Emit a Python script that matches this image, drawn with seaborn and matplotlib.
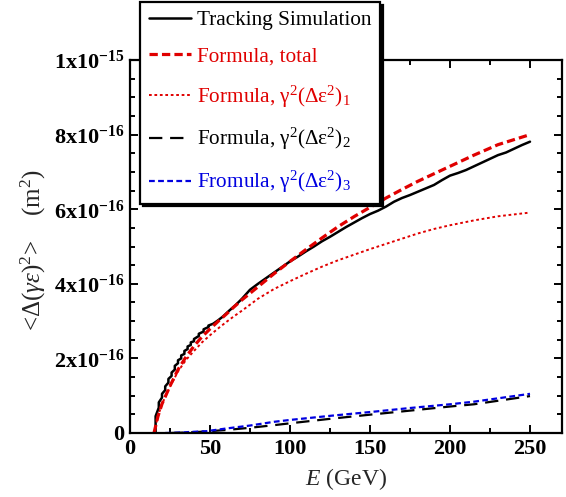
import numpy as np
import pandas as pd
import seaborn as sns
import matplotlib
matplotlib.use("Agg")
import matplotlib.pyplot as plt
from matplotlib.ticker import FixedLocator, MultipleLocator

# ---------------- data (units of 1e-16 m^2) ----------------
# tracking simulation (jagged at low energy: repeated E = vertical jump)
E_track = [16, 16, 18, 18, 20, 20, 22, 22, 24, 24, 26, 26, 28, 28, 30, 30, 32, 32,
           34, 34, 36, 36, 38, 38, 40, 40, 43, 43, 46, 46, 49, 49, 52, 55, 58, 62,
           66, 70, 75, 80, 85, 90, 95, 100, 105, 110, 115, 120, 125, 130, 135, 140,
           145, 150, 155, 160, 165, 170, 175, 180, 185, 190, 195, 200, 205, 210,
           215, 220, 225, 230, 235, 240, 245, 250]
track = [0.00, 0.45, 0.68, 0.82, 0.95, 1.05, 1.15, 1.25, 1.35, 1.45, 1.53, 1.62,
         1.70, 1.80, 1.87, 1.95, 2.00, 2.08, 2.12, 2.20, 2.25, 2.32, 2.36, 2.43,
         2.46, 2.52, 2.60, 2.66, 2.72, 2.78, 2.84, 2.88, 2.93, 3.02, 3.12, 3.28,
         3.43, 3.60, 3.84, 4.00, 4.15, 4.30, 4.45, 4.60, 4.73, 4.87, 5.00, 5.14,
         5.26, 5.39, 5.52, 5.64, 5.76, 5.87, 5.96, 6.07, 6.20, 6.30, 6.38, 6.47,
         6.56, 6.65, 6.78, 6.90, 6.97, 7.05, 7.15, 7.25, 7.35, 7.45, 7.52, 7.62,
         7.72, 7.81]

E_formula = [15, 17.5, 20, 22, 25, 30, 35, 40, 45, 50, 55, 60, 65, 70, 80, 90, 100,
             110, 120, 130, 140, 150, 160, 170, 180, 190, 200, 215, 230, 250]
total = [0.0, 0.45, 0.78, 0.97, 1.26, 1.70, 2.04, 2.33, 2.58, 2.79, 2.99, 3.18, 3.38,
         3.57, 3.92, 4.27, 4.60, 4.92, 5.23, 5.53, 5.80, 6.05, 6.30, 6.53, 6.75, 6.95,
         7.15, 7.45, 7.73, 8.00]
comp1 = [0.0, 0.45, 0.78, 0.96, 1.24, 1.65, 1.96, 2.20, 2.43, 2.62, 2.80, 2.97, 3.13,
         3.28, 3.60, 3.86, 4.07, 4.27, 4.46, 4.63, 4.78, 4.93, 5.07, 5.21, 5.35, 5.47,
         5.57, 5.70, 5.81, 5.91]

E_comp2 = [25, 40, 60, 75, 90, 100, 125, 152, 175, 200, 215, 250]
comp2 = [0.0, 0.02, 0.08, 0.14, 0.21, 0.26, 0.38, 0.50, 0.60, 0.71, 0.77, 0.99]

E_comp3 = [22, 30, 48, 60, 75, 90, 100, 125, 152, 175, 200, 215, 250]
comp3 = [0.0, 0.01, 0.05, 0.12, 0.20, 0.30, 0.35, 0.46, 0.57, 0.67, 0.77, 0.84, 1.05]

labels = ["Tracking Simulation",
          "Formula, total",
          r"Formula, γ$^{\mathrm{2}}$(Δε$^{\mathrm{2}}$)$_{\mathrm{1}}$",
          r"Formula, γ$^{\mathrm{2}}$(Δε$^{\mathrm{2}}$)$_{\mathrm{2}}$",
          r"Fromula, γ$^{\mathrm{2}}$(Δε$^{\mathrm{2}}$)$_{\mathrm{3}}$"]

yticks = [0, 2e-16, 4e-16, 6e-16, 8e-16, 1e-15]
ytick_labels = ["0", r"$\mathbf{2x10^{-16}}$", r"$\mathbf{4x10^{-16}}$",
                r"$\mathbf{6x10^{-16}}$", r"$\mathbf{8x10^{-16}}$",
                r"$\mathbf{1x10^{-15}}$"]
xticks = [0, 50, 100, 150, 200, 250]

# ---------------- style ----------------
sns.set_theme(style="ticks")
plt.rcParams["font.family"] = ["Liberation Serif", "DejaVu Serif"]
plt.rcParams["mathtext.fontset"] = "custom"
plt.rcParams["mathtext.rm"] = "Liberation Serif"
plt.rcParams["mathtext.it"] = "Liberation Serif:italic"
plt.rcParams["mathtext.bf"] = "Liberation Serif:bold"

fig = plt.figure(figsize=(5.66, 4.97), dpi=100)
ax = fig.add_axes([130 / 566, 1 - 433 / 497, 432 / 566, 373 / 497])

scale = 1e-16
df_t = pd.DataFrame({"E": E_track, "v": np.array(track) * scale})
df_f = pd.DataFrame({"E": E_formula, "tot": np.array(total) * scale,
                     "c1": np.array(comp1) * scale})
df_2 = pd.DataFrame({"E": E_comp2, "v": np.array(comp2) * scale})
df_3 = pd.DataFrame({"E": E_comp3, "v": np.array(comp3) * scale})

sns.lineplot(data=df_t, x="E", y="v", ax=ax, color="black", lw=1.8,
             estimator=None, sort=False, label=labels[0])
sns.lineplot(data=df_f, x="E", y="tot", ax=ax, color="#e00000", lw=2.3,
             linestyle=(0, (2.6, 1.3)), label=labels[1])
sns.lineplot(data=df_f, x="E", y="c1", ax=ax, color="#e00000", lw=1.4,
             linestyle=(0, (1.4, 1.4)), label=labels[2])
sns.lineplot(data=df_2, x="E", y="v", ax=ax, color="black", lw=1.6,
             linestyle=(0, (6, 3.5)), label=labels[3])
sns.lineplot(data=df_3, x="E", y="v", ax=ax, color="#0000e0", lw=1.6,
             linestyle=(0, (2.6, 1.5)), label=labels[4])

ax.set_xlim(0, 270)
ax.set_ylim(0, 1e-15)
ax.xaxis.set_major_locator(FixedLocator(xticks))
ax.xaxis.set_minor_locator(MultipleLocator(25))
ax.yaxis.set_major_locator(FixedLocator(yticks))
ax.yaxis.set_minor_locator(MultipleLocator(0.5e-16))
ax.set_xticklabels([str(t) for t in xticks], fontsize=16, fontweight="bold")
ax.set_yticklabels(ytick_labels, fontsize=16, fontweight="bold")
ax.tick_params(which="both", direction="in", top=True, right=True, width=1.4,
               colors="black")
ax.tick_params(which="major", length=6, pad=4)
ax.tick_params(which="minor", length=3.5)
for s in ax.spines.values():
    s.set_linewidth(1.6)
    s.set_color("black")
ax.set_xlabel("")
ax.set_ylabel("")

fig.text(346 / 566, 1 - 479 / 497, r"$\mathit{E}$ (GeV)", ha="center", va="center",
         fontsize=17)
fig.text(33 / 566, 1 - 250 / 497,
         r"<$\mathit{Δ(γε)}^{\mathrm{2}}$>    (m$^{\mathrm{2}}$)",
         ha="center", va="center", rotation=90, fontsize=18)

leg = ax.legend(loc="upper left", bbox_to_anchor=(140 / 566, 1 - 2 / 497),
                bbox_transform=fig.transFigure, fontsize=15.3, frameon=True,
                fancybox=False, shadow={"color": "black", "alpha": 1},
                labelcolor="linecolor",
                handlelength=2.0, handletextpad=0.3, labelspacing=0.78,
                borderpad=0.4, borderaxespad=0)
leg.get_frame().set_edgecolor("black")
leg.get_frame().set_linewidth(1.6)
leg.get_frame().set_alpha(1)

fig.savefig("out.png", dpi=100)
